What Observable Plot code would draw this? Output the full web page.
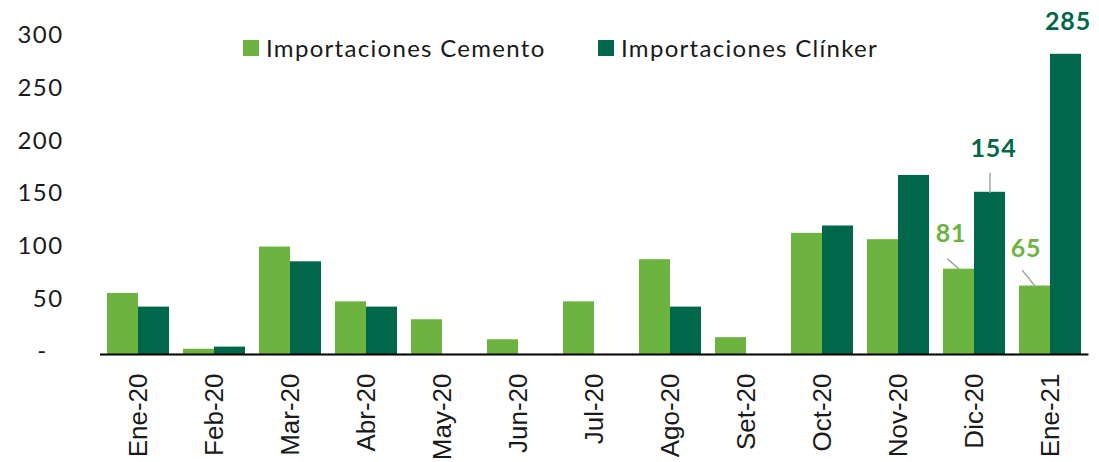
<!DOCTYPE html>
<html>
<head>
<meta charset="utf-8">
<script src="https://cdn.jsdelivr.net/npm/d3@7"></script>
<script src="https://cdn.jsdelivr.net/npm/@observablehq/plot@0.6"></script>
<style>
  html, body { margin: 0; padding: 0; background: #fff; }
  #wrap { position: relative; width: 1099px; height: 462px; }
  #wrap svg { overflow: visible; }
  #wrap svg g[aria-label="y-axis tick label"] text { letter-spacing: 1.4px; }
  #wrap svg g[aria-label="text"] text { letter-spacing: 0.8px; }
  .lg { position: absolute; display: flex; align-items: center; font-family: Lato, sans-serif; font-size: 24px; letter-spacing: 1.3px; color: #1a1a1a; white-space: nowrap; }
  .lg .sw { width: 16px; height: 16px; margin-right: 7px; }
</style>
</head>
<body>
<div id="wrap"></div>
<script>
const months = ["Ene-20","Feb-20","Mar-20","Abr-20","May-20","Jun-20","Jul-20","Ago-20","Set-20","Oct-20","Nov-20","Dic-20","Ene-21"];
const seriesNames = ["Importaciones Cemento", "Importaciones Clínker"];
const cemento = [58, 5, 102, 50, 33, 14, 50, 90, 16, 115, 109, 81, 65];
const clinker = [45, 7, 88, 45, 0, 0, 0, 45, 0, 122, 170, 154, 285];
const colors = ["#6db33f", "#00674b"];
const yTicks = [50, 100, 150, 200, 250, 300];

const table = [];
months.forEach((m, i) => {
  table.push({month: m, series: seriesNames[0], value: cemento[i]});
  table.push({month: m, series: seriesNames[1], value: clinker[i]});
});
const pick = (m, s) => table.filter(d => d.month === m && d.series === seriesNames[s]);

const colorOf = s => colors[seriesNames.indexOf(s)];

const chart = Plot.plot({
  width: 1099,
  height: 462,
  marginTop: 38,
  marginBottom: 108,
  marginLeft: 97,
  marginRight: 9,
  fx: {domain: months, paddingInner: 0.19, paddingOuter: 0.085, label: null},
  x: {domain: seriesNames, axis: null, padding: 0},
  y: {domain: [0, 300]},
  marks: [
    Plot.barY(table, {fx: "month", x: "series", y: "value", fill: d => colorOf(d.series)}),
    Plot.ruleY([0], {stroke: "#000", strokeWidth: 2, insetLeft: -7, insetRight: -7.5}),
    Plot.axisY({ticks: yTicks, tickSize: 0, tickPadding: 44, fontSize: 24, fontFamily: "Lato, sans-serif", fill: "#1a1a1a", dy: -3, label: null}),
    Plot.axisY({ticks: [0], tickFormat: () => "-", tickSize: 0, tickPadding: 60, fontSize: 24, fontFamily: "Lato, sans-serif", fill: "#1a1a1a", dy: -3, label: null}),
    Plot.axisFx({anchor: "bottom", tickRotate: -90, tickSize: 0, tickPadding: 19, fontSize: 26, fontFamily: "'Liberation Sans', Arial, sans-serif", fill: "#1a1a1a", label: null}),
    // leader lines
    Plot.vector(pick("Dic-20", 1), {fx: "month", x: "series", y: "value", length: 19, rotate: 0, anchor: "start", r: 0, stroke: "#a6a6a6", strokeWidth: 1.5}),
    Plot.vector(pick("Dic-20", 0), {fx: "month", x: "series", y: "value", length: 15, rotate: -48, anchor: "start", r: 0, stroke: "#a6a6a6", strokeWidth: 1.5}),
    Plot.vector(pick("Ene-21", 0), {fx: "month", x: "series", y: "value", length: 20, rotate: -39, anchor: "start", r: 0, stroke: "#a6a6a6", strokeWidth: 1.5}),
    // data labels
    Plot.text(pick("Ene-21", 1), {fx: "month", x: "series", y: "value", text: d => String(d.value), dx: 2, dy: -32, fill: colors[1], fontSize: 25, fontWeight: "bold", fontFamily: "Lato, sans-serif"}),
    Plot.text(pick("Dic-20", 1), {fx: "month", x: "series", y: "value", text: d => String(d.value), dx: 3.5, dy: -43, fill: colors[1], fontSize: 25, fontWeight: "bold", fontFamily: "Lato, sans-serif"}),
    Plot.text(pick("Dic-20", 0), {fx: "month", x: "series", y: "value", text: d => String(d.value), dx: -8, dy: -35, fill: colors[0], fontSize: 25, fontWeight: "bold", fontFamily: "Lato, sans-serif"}),
    Plot.text(pick("Ene-21", 0), {fx: "month", x: "series", y: "value", text: d => String(d.value), dx: -9, dy: -37.5, fill: colors[0], fontSize: 25, fontWeight: "bold", fontFamily: "Lato, sans-serif"})
  ]
});

const wrap = document.getElementById("wrap");
wrap.appendChild(chart);

const legendLeft = [243, 598];
seriesNames.forEach((s, i) => {
  const item = document.createElement("div");
  item.className = "lg";
  item.style.left = legendLeft[i] + "px";
  item.style.top = "33px";
  const sw = document.createElement("span");
  sw.className = "sw";
  sw.style.background = colors[i];
  const tx = document.createElement("span");
  tx.textContent = s;
  item.appendChild(sw);
  item.appendChild(tx);
  wrap.appendChild(item);
});
</script>
</body>
</html>
